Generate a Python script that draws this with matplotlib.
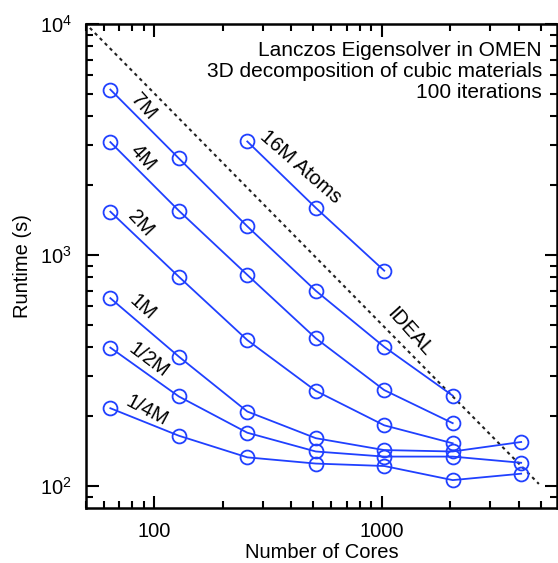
import numpy as np
import matplotlib.pyplot as plt
from matplotlib.ticker import LogLocator, NullFormatter, FixedLocator, FixedFormatter

plt.rcParams['font.family'] = ['Liberation Sans', 'DejaVu Sans']
plt.rcParams['mathtext.fontset'] = 'custom'
plt.rcParams['mathtext.rm'] = 'Liberation Sans'
plt.rcParams['mathtext.it'] = 'Liberation Sans:italic'

# cores used per run
cores = [64, 128, 256, 512, 1024, 2048, 4096]
cores_16m = [256, 512, 1024]

# runtimes (s)
rt_16m = [3100, 1600, 855]
rt_7m = [5200, 2620, 1330, 700, 400, 246]
rt_4m = [3080, 1555, 820, 436, 260, 187]
rt_2m = [1540, 805, 428, 258, 183, 153]
rt_1m = [650, 363, 210, 161, 143, 141, 155]
rt_half = [397, 244, 170, 141, 134, 134, 126]
rt_quarter = [217, 165, 133, 125, 122, 106, 113]

# ideal scaling line
ideal_cores = [52, 4900]
ideal_const = 5.0e5

blue = '#2040ff'

fig = plt.figure(figsize=(5.58, 5.63), dpi=100)
ax = fig.add_axes([0.1541, 0.0982, 0.8436, 0.8592])

ax.plot(ideal_cores, [ideal_const / c for c in ideal_cores], color='#222222',
        linestyle=(0, (1.6, 1.8)), linewidth=1.5)

series = [(cores_16m, rt_16m), (cores[:6], rt_7m), (cores[:6], rt_4m),
          (cores[:6], rt_2m), (cores, rt_1m), (cores, rt_half), (cores, rt_quarter)]
for xs, ys in series:
    ax.plot(xs, ys, color=blue, linewidth=1.3, marker='o', markersize=10,
            markerfacecolor='none', markeredgecolor=blue, markeredgewidth=1.3)

ax.set_xscale('log')
ax.set_yscale('log')
ax.set_xlim(50, 5870)
ax.set_ylim(80.5, 10000)

ax.xaxis.set_major_locator(FixedLocator([100, 1000]))
ax.xaxis.set_major_formatter(FixedFormatter(['100', '1000']))
ax.xaxis.set_minor_locator(LogLocator(base=10, subs=np.arange(2, 10)))
ax.xaxis.set_minor_formatter(NullFormatter())
ax.yaxis.set_major_locator(LogLocator(base=10, numticks=10))
ax.yaxis.set_minor_locator(LogLocator(base=10, subs=np.arange(2, 10), numticks=10))
ax.yaxis.set_minor_formatter(NullFormatter())

ax.tick_params(which='both', direction='in', top=True, right=True, width=1.5,
               labelsize=14.5, pad=10)
ax.tick_params(which='major', length=9)
ax.tick_params(which='minor', length=5)
for s in ax.spines.values():
    s.set_linewidth(1.8)

ax.set_xlabel('Number of Cores', fontsize=14.5, labelpad=2)
ax.set_ylabel('Runtime (s)', fontsize=14.5, labelpad=6)

ax.text(0.969, 0.965, 'Lanczos Eigensolver in OMEN\n3D decomposition of cubic materials\n100 iterations',
        transform=ax.transAxes, ha='right', va='top', fontsize=15, linespacing=1.12)

# labels along the curves
lab = dict(fontsize=14.5, ha='center', va='center', rotation_mode='anchor')
ax.text(89.5, 4370, '7M', rotation=-48, **lab)
ax.text(88.6, 2630, '4M', rotation=-48, **lab)
ax.text(86.8, 1376, '2M', rotation=-47, **lab)
ax.text(88.6, 596, '1M', rotation=-42, **lab)
ax.text(94, 351, '1/2M', rotation=-37, **lab)
ax.text(93, 211, '1/4M', rotation=-28, **lab)
ax.text(438, 2400, '16M Atoms', rotation=-41, **lab)
ax.text(1318, 464, 'IDEAL', rotation=-48, **lab)

fig.savefig('out.png', dpi=100)
